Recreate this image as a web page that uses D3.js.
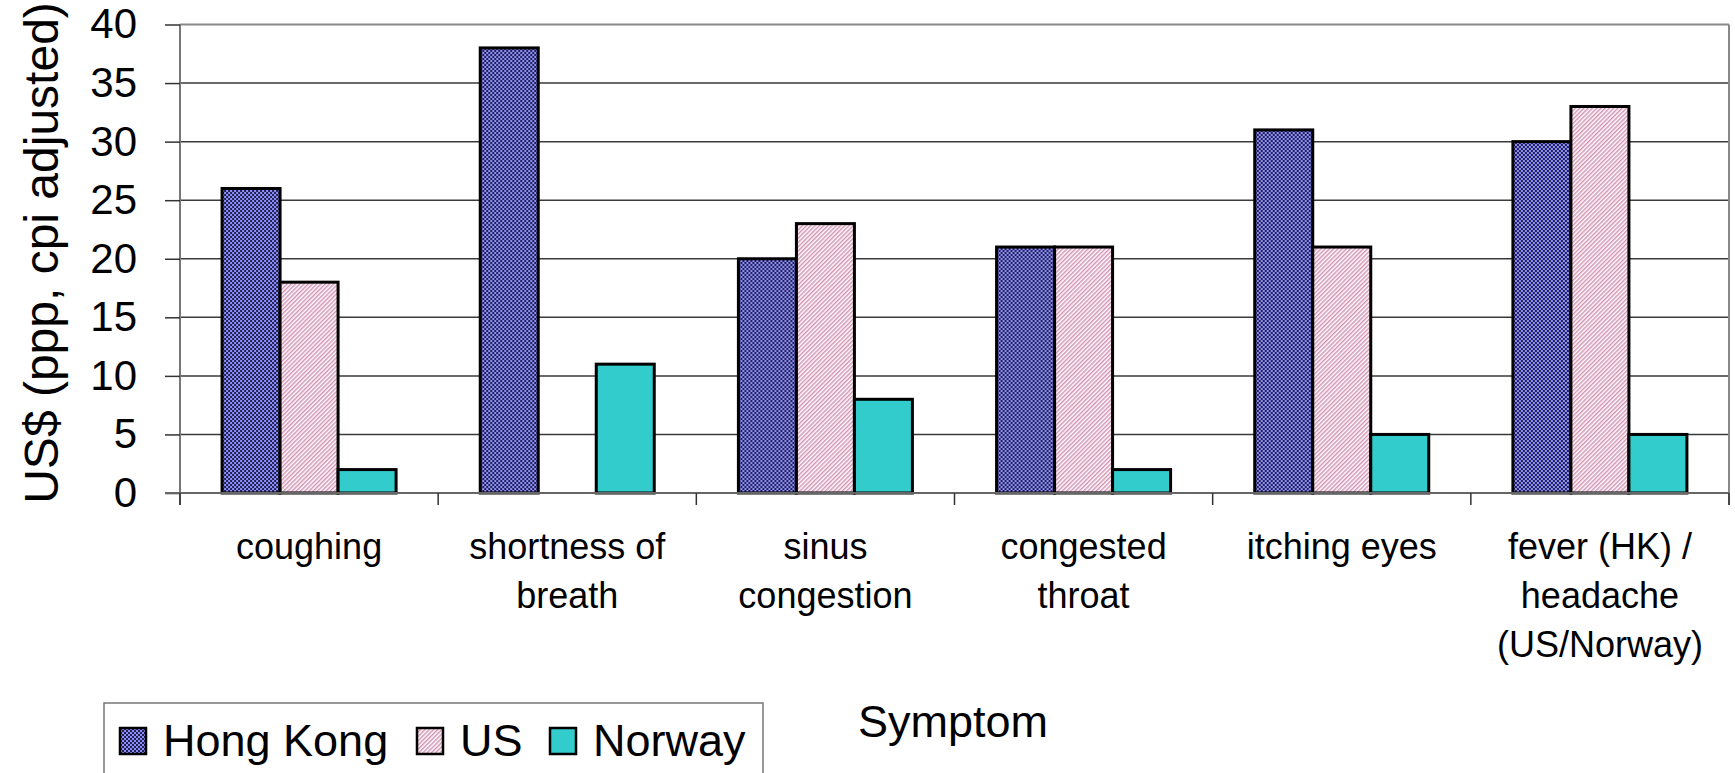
<!DOCTYPE html>
<html>
<head>
<meta charset="utf-8">
<script src="https://cdn.jsdelivr.net/npm/d3@7"></script>
<style>
  body { margin: 0; background: #fff; }
  svg { display: block; font-family: "Liberation Sans", Arial, sans-serif; }
</style>
</head>
<body>
<svg id="chart" width="1735" height="773"></svg>
<script>
// chart data
const categories = ["coughing", "shortness of\nbreath", "sinus\ncongestion", "congested\nthroat", "itching eyes", "fever (HK) /\nheadache\n(US/Norway)"]
const seriesNames = ["Hong Kong", "US", "Norway"]
const hongKong = [26, 38, 20, 21, 31, 30]
const us = [18, null, 23, 21, 21, 33]
const norway = [2, 11, 8, 2, 5, 5]
const yTicks = [0, 5, 10, 15, 20, 25, 30, 35, 40]

// plot area
const plot = {left: 180, right: 1729, top: 24.5, bottom: 493}
const svg = d3.select('#chart')

// fills: checker for HK, pink hatch for US, plain teal for Norway
const defs = svg.append('defs')
const hk = defs.append('pattern').attr('id', 'hkFill').attr('patternUnits', 'userSpaceOnUse')
  .attr('width', 4).attr('height', 4)
hk.append('rect').attr('width', 4).attr('height', 4).attr('fill', '#8c8cff')
hk.append('rect').attr('width', 2).attr('height', 2).attr('fill', '#22224e')
hk.append('rect').attr('x', 2).attr('y', 2).attr('width', 2).attr('height', 2).attr('fill', '#22224e')

const usP = defs.append('pattern').attr('id', 'usFill').attr('patternUnits', 'userSpaceOnUse')
  .attr('width', 3).attr('height', 3).attr('patternTransform', 'rotate(45)')
usP.append('rect').attr('width', 3).attr('height', 3).attr('fill', '#ffffff')
usP.append('rect').attr('width', 1.5).attr('height', 3).attr('fill', '#d394b4')

const fills = {"Hong Kong": "url(#hkFill)", "US": "url(#usFill)", "Norway": "#33cccc"}

// scales
const x0 = d3.scaleBand().domain(categories).range([plot.left, plot.right])
  .paddingInner(0.326).paddingOuter(0.163)
const x1 = d3.scaleBand().domain(seriesNames).range([0, x0.bandwidth()])
const y = d3.scaleLinear().domain([0, 40]).range([plot.bottom, plot.top])

// gridlines
svg.append('g').selectAll('line').data(yTicks.filter(d => d > 0)).join('line')
  .attr('x1', plot.left).attr('x2', plot.right)
  .attr('y1', d => y(d)).attr('y2', d => y(d))
  .attr('stroke', d => d == 40 ? '#888' : '#3a3a3a').attr('stroke-width', d => d == 40 ? 2 : 1.5)

// right border
svg.append('line').attr('x1', plot.right).attr('x2', plot.right)
  .attr('y1', plot.top).attr('y2', plot.bottom + 12)
  .attr('stroke', '#888').attr('stroke-width', 2)

// y axis
const yAxis = d3.axisLeft(y).tickValues(yTicks).tickSize(15).tickPadding(28)
const gy = svg.append('g').attr('transform', `translate(${plot.left},0)`).call(yAxis)
gy.select('.domain').attr('stroke', '#777').attr('stroke-width', 2)
  .attr('d', `M0,${plot.top}V${plot.bottom + 12}`)
gy.selectAll('.tick line').attr('stroke', '#333').attr('stroke-width', 1.5)
gy.selectAll('.tick text').attr('font-size', 42).attr('fill', '#000')
  .attr('font-family', '"Liberation Sans", Arial, sans-serif')

// bars
const rows = categories.map((c, i) => ({cat: c, values: [hongKong[i], us[i], norway[i]]}))
svg.append('g').selectAll('g').data(rows).join('g')
  .attr('transform', d => `translate(${x0(d.cat)},0)`)
  .selectAll('rect')
  .data(d => d.values.map((v, j) => ({key: seriesNames[j], value: v})).filter(d => d.value != null))
  .join('rect')
    .attr('x', d => x1(d.key))
    .attr('y', d => y(d.value))
    .attr('width', x1.bandwidth())
    .attr('height', d => y(0) - y(d.value))
    .attr('fill', d => fills[d.key])
    .attr('stroke', '#000').attr('stroke-width', 3)

// x axis line and category boundary ticks
svg.append('line').attr('x1', plot.left - 15).attr('x2', plot.right)
  .attr('y1', plot.bottom).attr('y2', plot.bottom)
  .attr('stroke', '#666').attr('stroke-width', 2)
const edge = (x0.step() - x0.bandwidth()) / 2
const bounds = categories.map(c => x0(c) - edge).concat([plot.right])
svg.append('g').selectAll('line').data(bounds).join('line')
  .attr('x1', d => d).attr('x2', d => d)
  .attr('y1', plot.bottom).attr('y2', plot.bottom + 12)
  .attr('stroke', '#333').attr('stroke-width', 1.5)

// category labels
svg.append('g').selectAll('text').data(categories).join('text')
  .attr('text-anchor', 'middle').attr('font-size', 36)
  .attr('transform', d => `translate(${x0(d) + x0.bandwidth() / 2},559)`)
  .selectAll('tspan').data(d => d.split('\n')).join('tspan')
    .attr('x', 0).attr('y', (d, i) => i * 49)
    .text(d => d)

// axis titles
svg.append('text')
  .attr('transform', 'translate(58,253) rotate(-90)')
  .attr('text-anchor', 'middle').attr('font-size', 48)
  .text('US$ (ppp, cpi adjusted)')

svg.append('text').attr('x', 953).attr('y', 737)
  .attr('text-anchor', 'middle').attr('font-size', 45)
  .text('Symptom')

// legend
svg.append('rect').attr('x', 104).attr('y', 703).attr('width', 659).attr('height', 90)
  .attr('fill', 'none').attr('stroke', '#777').attr('stroke-width', 1.5)
const legendX = [120, 417, 550]
const leg = svg.append('g').selectAll('g').data(seriesNames).join('g')
  .attr('transform', (d, i) => `translate(${legendX[i]},728)`)
leg.append('rect').attr('width', 26).attr('height', 26)
  .attr('fill', d => fills[d]).attr('stroke', '#000').attr('stroke-width', 2.5)
leg.append('text').attr('x', 43).attr('y', 28).attr('font-size', 45)
  .text(d => d)
</script>
</body>
</html>
